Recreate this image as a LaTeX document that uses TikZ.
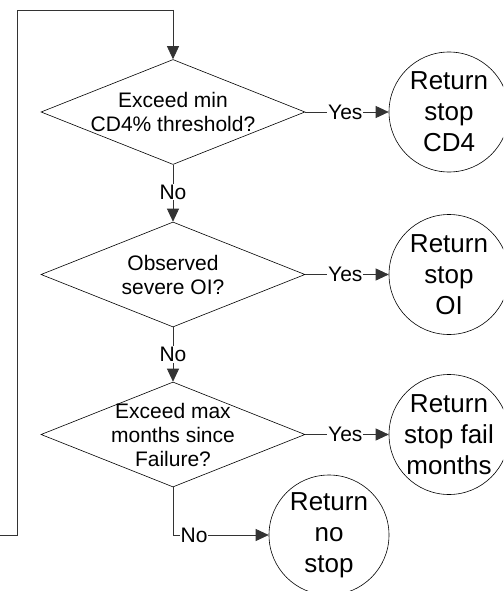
\documentclass[tikz,border=0pt]{standalone}
\usepackage{fontspec}
\setmainfont{Liberation Sans}
\usetikzlibrary{shapes.geometric,arrows.meta}
\tikzset{
  decision/.style={shape=diamond, draw=black, line width=0.6pt, minimum width=264pt, minimum height=105pt, inner sep=0pt, text width=0pt},
  dtext/.style={font=\fontsize{21}{24}\selectfont, align=center, inner sep=0pt},
  endstate/.style={shape=circle, draw=black, line width=0.6pt, minimum size=120pt, inner sep=0pt},
  ctext/.style={font=\fontsize{26}{31}\selectfont, align=center, inner sep=0pt},
  conn/.style={draw=black!80, line width=0.7pt},
  arr/.style={conn, -{Triangle[length=13pt,width=12pt]}},
  lab/.style={fill=white, font=\fontsize{21}{24}\selectfont, inner sep=1pt}
}
\begin{document}
\begin{tikzpicture}[x=1pt,y=-1pt]
\useasboundingbox (0,0) rectangle (503,591);
\clip (0,0) rectangle (503,591);
\node[decision, label={[dtext]center:Exceed min\\CD4\% threshold?}] (d1) at (173,112) {};
\node[decision, label={[dtext]center:Observed\\severe OI?}] (d2) at (173,274.5) {};
\node[decision, label={[dtext]center:Exceed max\\months since\\Failure?}] (d3) at (173,434.5) {};
\node[endstate, label={[ctext]center:Return\\stop\\CD4}] (c1) at (449,112) {};
\node[endstate, label={[ctext]center:Return\\stop\\OI}] (c2) at (449,274.5) {};
\node[endstate, label={[ctext]center:Return\\stop fail\\months}] (c3) at (449,434.5) {};
\node[endstate, label={[ctext]center:Return\\no\\stop}] (c4) at (329,535) {};
\coordinate (in) at (0,535);
\coordinate (lc1) at (17,535);
\coordinate (lc2) at (17,10);
\coordinate (lc3) at (173,10);
\draw[conn] (in) -- (lc1) -- (lc2) -- (lc3);
\draw[arr] (lc3) -- (d1.north);
\draw[arr] (d1.south) -- node[lab, pos=0.48] {No} (d2.north);
\draw[arr] (d2.south) -- node[lab, pos=0.5] {No} (d3.north);
\draw[arr] (d1.east) -- node[lab, pos=0.48] {Yes} (c1.west);
\draw[arr] (d2.east) -- node[lab, pos=0.48] {Yes} (c2.west);
\draw[arr] (d3.east) -- node[lab, pos=0.48] {Yes} (c3.west);
\draw[arr] (d3.south) |- node[lab, pos=0.61] {No} (c4.west);
\end{tikzpicture}
\end{document}
